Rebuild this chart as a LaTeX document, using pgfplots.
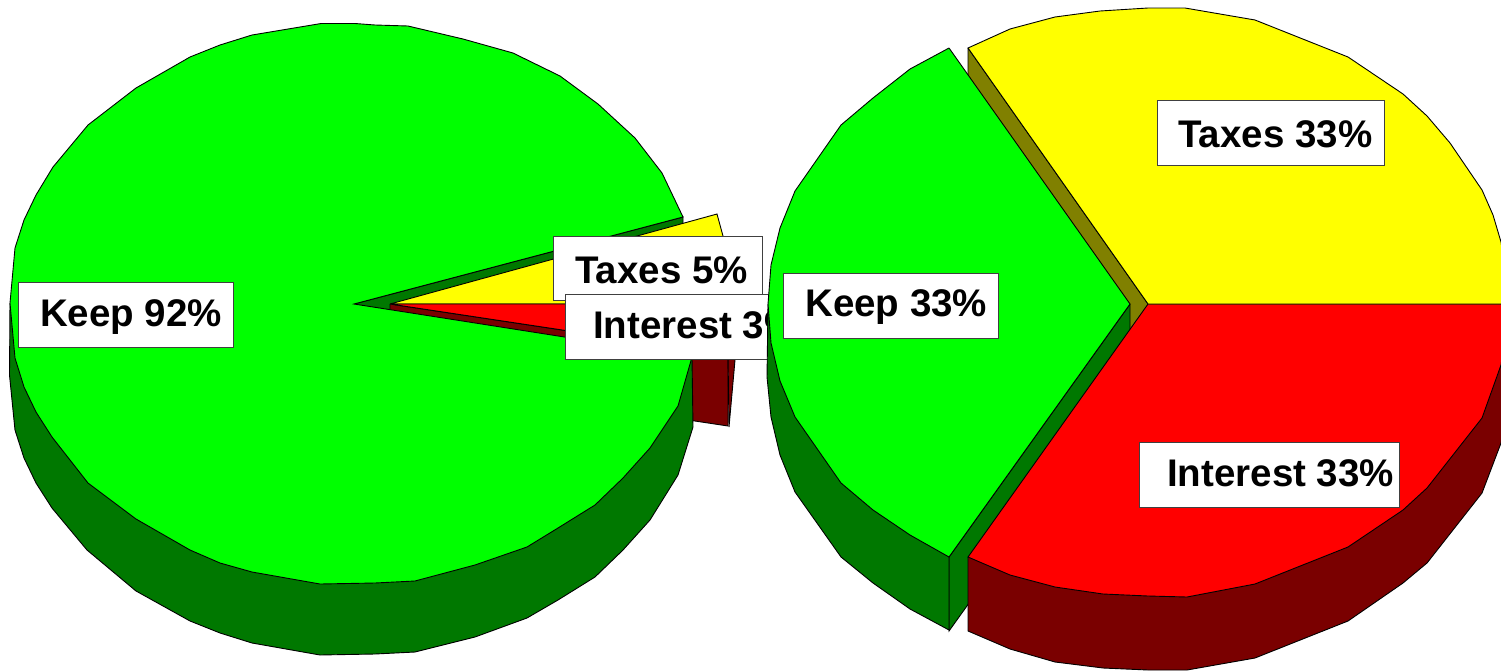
\documentclass[border=0pt]{standalone}
\usepackage{fontspec}
\setmainfont{Liberation Sans}
\usepackage{pgfplots}
\pgfplotsset{compat=1.18}
\definecolor{keeptop}{HTML}{00FF00}
\definecolor{keepside}{HTML}{007800}
\definecolor{taxtop}{HTML}{FFFF00}
\definecolor{taxside}{HTML}{808000}
\definecolor{inttop}{HTML}{FF0000}
\definecolor{intside}{HTML}{7A0000}
\pgfplotsset{
  pieframe/.style={
    at={(0,0)}, anchor=south west, scale only axis,
    width=1501pt, height=670pt,
    xmin=0, xmax=1501, ymin=0, ymax=670, y dir=reverse,
    hide axis,
  },
  face/.style={fill=#1, draw=black, line width=0.9pt, line join=miter, no markers},
  labelbox/.style={fill=white, draw=black!75, line width=1pt, no markers},
}
\newcommand{\pielabel}[3]{\node[anchor=base west, inner sep=0pt, font=\fontsize{38.5}{40}\selectfont\bfseries, text=black] at (axis cs:#1,#2) {#3};}
\begin{document}
\begin{tikzpicture}
% Pie with two small slices pulled out of the large one
\begin{axis}[pieframe]
  % invisible path that holds the full extent of the picture
  \addplot[draw=none, no markers] coordinates {(0,0) (1501,670)};
  % inner wall of the large slice
  \addplot[face=keepside] coordinates {(354,304) (683,217) (683,288) (354,375) (354,304)};
  % interest slice walls
  \addplot[face=intside] coordinates {(390,304) (390,375) (728,426) (728,355) (390,304)};
  \addplot[face=intside] coordinates {(728,355) (735,304) (735,360) (729,427) (728,355)};
  % small slice tops
  \addplot[face=taxtop] coordinates {(390,304) (717,214) (723,236) (735,304) (390,304)};
  \addplot[face=inttop] coordinates {(390,304) (735,304) (728,355) (390,304)};
  % large slice wall
  \addplot[face=keepside] coordinates {(10,303) (9.5,375) (15,430) (24,458) (36,483) (52,508) (87,550) (136,591) (190,621) (220,633) (252,643) (320,655) (375,654) (415,652) (475,637) (527,618) (558,600) (595,577) (623,550) (650,520) (678,475) (693,427) (692,358) (10,303)};
  % large slice top
  \addplot[face=keeptop] coordinates {(10,303) (15,248) (24,220) (36,195) (53,167) (88,125) (136,88) (190,57) (220,45) (252,35) (321,23.5) (355,23.5) (375,25) (408,26) (463,39) (513,53) (560,76) (598,104) (635,138) (662,173) (683,217) (354,304) (692,357) (678,406) (650,448) (623,478) (595,505) (558,528) (527,547) (475,565) (415,581) (375,583) (320,584) (252,572) (220,563) (190,550) (136,519) (88,483) (52,437) (36,412) (24,387) (15,358) (10,303)};
  % label boxes
  \addplot[labelbox] coordinates {(18,282) (233,282) (233,347) (18,347) (18,282)};
  \pielabel{40}{326}{Keep 92\%}
  \addplot[labelbox] coordinates {(553,236) (762,236) (762,300) (553,300) (553,236)};
  \pielabel{575}{283}{Taxes 5\%}
  \addplot[labelbox] coordinates {(565,294) (768,294) (768,359) (565,359) (565,294)};
  \pielabel{593}{338}{Interest 3\%}
\end{axis}
% Pie with three equal slices, drawn over the first one
\begin{axis}[pieframe]
  % slice walls seen through the gaps
  \addplot[face=taxside] coordinates {(968,48) (968,122) (1148,378) (1148,304) (968,48)};
  \addplot[face=keepside] coordinates {(1130,304) (949,557) (949,631) (1130,378) (1130,304)};
  % interest slice
  \addplot[face=intside] coordinates {(968,557) (968,631) (1010,649) (1055,662) (1103,668) (1148,670) (1187,670) (1255,658) (1348,621) (1403,583) (1427,563) (1482,493) (1501,443) (1510,378) (1510,304) (968,557)};
  \addplot[face=inttop] coordinates {(1148,304) (1510,304) (1501,365) (1482,418) (1427,488) (1403,510) (1348,547) (1255,584) (1187,597) (1148,596) (1103,594) (1055,587) (1010,575) (968,557) (1148,304)};
  % taxes slice
  \addplot[face=taxtop] coordinates {(1148,304) (968,48) (1010,29) (1055,17) (1100,11) (1148,8) (1185,8) (1255,20) (1348,57) (1403,94) (1427,116) (1450,143) (1482,190) (1493,215) (1501,242) (1510,304) (1148,304)};
  % keep slice
  \addplot[face=keepside] coordinates {(768,304) (767,377) (771,417) (780,455) (795,492) (841,557) (873,583) (910,609) (949,630) (949,557) (768,304)};
  \addplot[face=keeptop] coordinates {(949,48) (1130,304) (949,557) (910,535) (873,510) (841,483) (795,417) (780,381) (771,343) (768,304) (771,265) (780,228) (795,191) (841,125) (873,98) (910,69) (949,48)};
  % label boxes
  \addplot[labelbox] coordinates {(1157,100) (1384,100) (1384,165) (1157,165) (1157,100)};
  \pielabel{1178}{147}{Taxes 33\%}
  \addplot[labelbox] coordinates {(1139,442) (1399,442) (1399,507) (1139,507) (1139,442)};
  \pielabel{1167}{486}{Interest 33\%}
  \addplot[labelbox] coordinates {(783,273) (998,273) (998,338) (783,338) (783,273)};
  \pielabel{805}{316}{Keep 33\%}
\end{axis}
\end{tikzpicture}
\end{document}
